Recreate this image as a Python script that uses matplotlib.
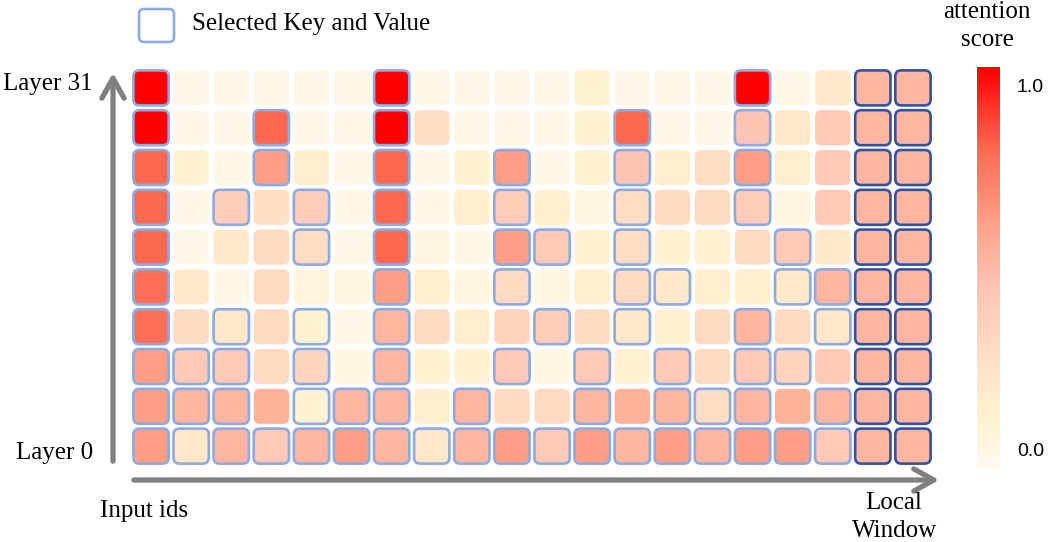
# coding:utf-8

import matplotlib
matplotlib.use("Agg")
import matplotlib.pyplot as plt
from matplotlib.colors import LinearSegmentedColormap, Normalize
from matplotlib.cm import ScalarMappable
from matplotlib.patches import FancyBboxPatch, FancyArrowPatch


# attention score per cell, top row = Layer 31, bottom row = Layer 0
scores = [
    [1.0, .03, .03, .03, .03, .03, 1.0, .03, .03, .03, .03, .12, .03, .03, .03, 1.0, .03, .20],
    [1.0, .03, .03, .80, .03, .03, 1.0, .28, .03, .03, .03, .12, .80, .03, .03, .45, .20, .42],
    [.80, .12, .03, .62, .16, .03, .80, .03, .12, .62, .03, .12, .45, .16, .30, .62, .16, .42],
    [.80, .03, .40, .28, .40, .03, .80, .03, .16, .40, .16, .06, .30, .32, .32, .40, .06, .42],
    [.80, .03, .20, .32, .30, .03, .80, .06, .03, .62, .42, .12, .30, .12, .12, .32, .42, .20],
    [.78, .20, .03, .32, .08, .06, .62, .16, .06, .32, .06, .16, .32, .20, .16, .16, .20, .52],
    [.78, .32, .20, .32, .12, .03, .52, .32, .16, .35, .40, .32, .20, .14, .32, .52, .32, .20],
    [.62, .42, .42, .32, .34, .06, .52, .12, .12, .42, .06, .42, .12, .42, .32, .42, .34, .42],
    [.62, .52, .52, .54, .12, .52, .52, .16, .52, .32, .32, .52, .54, .52, .30, .52, .54, .52],
    [.62, .22, .52, .42, .52, .62, .52, .22, .52, .62, .42, .62, .52, .62, .52, .62, .62, .42],
]

# 1 = selected key/value (light blue border)
selected = [
    [1, 0, 0, 0, 0, 0, 1, 0, 0, 0, 0, 0, 0, 0, 0, 1, 0, 0],
    [1, 0, 0, 1, 0, 0, 1, 0, 0, 0, 0, 0, 1, 0, 0, 1, 0, 0],
    [1, 0, 0, 1, 0, 0, 1, 0, 0, 1, 0, 0, 1, 0, 0, 1, 0, 0],
    [1, 0, 1, 0, 1, 0, 1, 0, 0, 1, 0, 0, 1, 0, 0, 1, 0, 0],
    [1, 0, 0, 0, 1, 0, 1, 0, 0, 1, 1, 0, 1, 0, 0, 0, 1, 0],
    [1, 0, 0, 0, 0, 0, 1, 0, 0, 1, 0, 0, 1, 1, 0, 0, 1, 1],
    [1, 0, 1, 0, 1, 0, 1, 0, 0, 0, 1, 0, 1, 0, 0, 1, 0, 1],
    [1, 1, 1, 0, 1, 0, 1, 0, 0, 1, 0, 1, 0, 1, 0, 1, 1, 0],
    [1, 1, 1, 0, 1, 1, 1, 0, 1, 0, 0, 1, 0, 1, 1, 1, 0, 1],
    [1, 1, 1, 1, 1, 1, 1, 1, 1, 1, 1, 1, 1, 1, 1, 1, 1, 1],
]

# local window (last two tokens), always kept
window_scores = [
    [.52, .52], [.52, .52], [.52, .52], [.52, .52], [.52, .52],
    [.52, .52], [.52, .52], [.52, .52], [.52, .52], [.52, .52],
]

row_labels = ["Layer 31", "Layer 0"]

# 颜色
cmap = LinearSegmentedColormap.from_list("attn", [
    (0.0, "#fffaee"), (0.15, "#fff0cc"), (0.3, "#ffdcc4"), (0.45, "#ffc4b4"),
    (0.6, "#ffa48a"), (0.8, "#ff6850"), (1.0, "#ff0000")])
norm = Normalize(0, 1)

sel_color = "#8eaae0"
win_color = "#3352a0"
gray = "#808080"
serif = "Liberation Serif"
fs = 18

fig = plt.figure(figsize=(10.5, 5.42), dpi=100)

# overlay in pixel coords for arrows / text
ov = fig.add_axes([0, 0, 1, 1])
ov.set_xlim(0, 1050)
ov.set_ylim(542, 0)
ov.axis("off")

# grid axes
ax = fig.add_axes([131 / 1050, 1 - 466 / 542, 802 / 1050, 398 / 542])
ax.set_xlim(-0.5, 19.5)
ax.set_ylim(9.5, -0.5)
ax.axis("off")
ax.patch.set_alpha(0)

size = 0.88
rad = 0.15
n_rows = len(scores)
for r in range(n_rows):
    row = scores[r] + window_scores[r]
    for c, v in enumerate(row):
        if c >= len(scores[r]):
            ec, lw = win_color, 1.9
        elif selected[r][c]:
            ec, lw = sel_color, 1.9
        else:
            ec, lw = "none", 0
        box = FancyBboxPatch((c - size / 2, r - size / 2), size, size,
                             boxstyle="round,pad=0,rounding_size=%s" % rad,
                             facecolor=cmap(norm(v)), edgecolor=ec, linewidth=lw)
        ax.add_patch(box)

# 坐标轴箭头
ov.add_patch(FancyArrowPatch((113, 464), (113, 70), arrowstyle="->,head_length=9,head_width=5",
                             color=gray, linewidth=3.8, mutation_scale=1.6))
ov.add_patch(FancyArrowPatch((131, 480), (942, 480), arrowstyle="->,head_length=9,head_width=5",
                             color=gray, linewidth=3.8, mutation_scale=1.6))

ov.text(93, 84, row_labels[0], ha="right", va="center", fontsize=fs, family=serif)
ov.text(93, 453, row_labels[1], ha="right", va="center", fontsize=fs, family=serif)
ov.text(144, 511, "Input ids", ha="center", va="center", fontsize=fs, family=serif)
ov.text(894, 503, "Local", ha="center", va="center", fontsize=fs, family=serif)
ov.text(895, 531, "Window", ha="center", va="center", fontsize=fs, family=serif)
ov.text(987, 12, "attention", ha="center", va="center", fontsize=fs, family=serif)
ov.text(987, 40, "score", ha="center", va="center", fontsize=fs, family=serif)

# legend
ov.add_patch(FancyBboxPatch((139, 9), 35, 33, boxstyle="round,pad=0,rounding_size=5",
                            facecolor="white", edgecolor=sel_color, linewidth=1.9))
ov.text(192, 24, "Selected Key and Value", ha="left", va="center", fontsize=fs, family=serif)

# colorbar
cax = fig.add_axes([977 / 1050, 1 - 470 / 542, 23 / 1050, 403 / 542])
cb = fig.colorbar(ScalarMappable(norm=norm, cmap=cmap), cax=cax)
cb.outline.set_visible(False)
cb.set_ticks([])
ov.text(1017, 87, "1.0", ha="left", va="center", fontsize=14, family="Liberation Sans")
ov.text(1017, 452, "0.0", ha="left", va="center", fontsize=14, family="Liberation Sans")

plt.savefig("out.png", dpi=100)
